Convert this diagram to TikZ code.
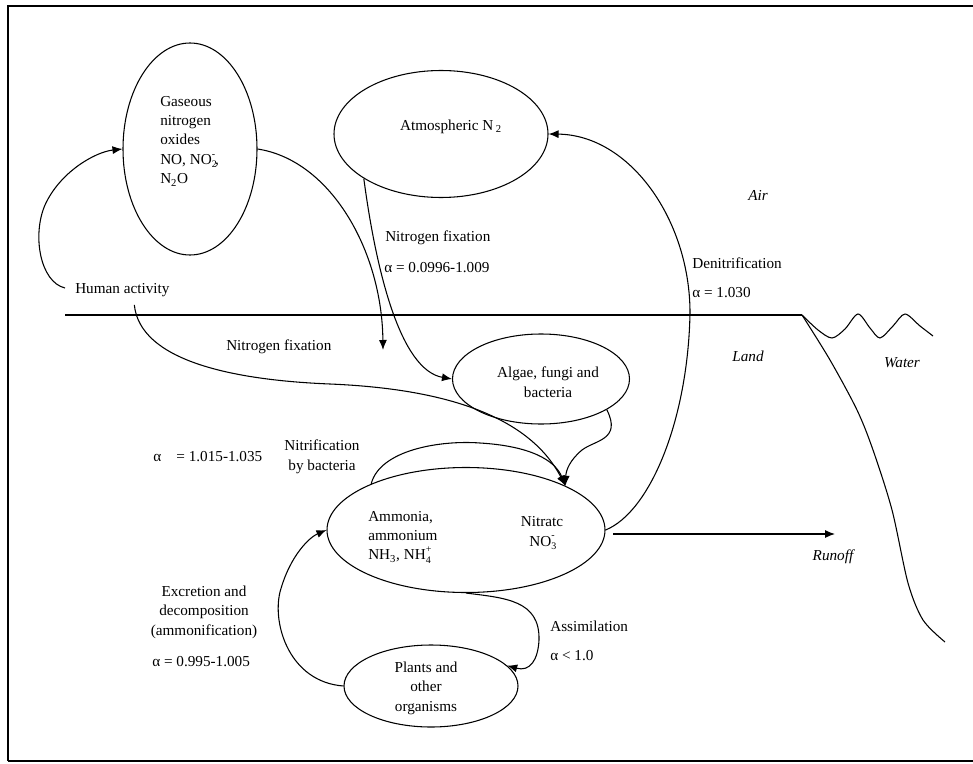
\documentclass[tikz,border=0pt]{standalone}
\usepackage{fontspec}
\setmainfont{Liberation Serif}
\usetikzlibrary{arrows.meta,shapes.geometric,calc}
\newcommand\sbsp[2]{\rlap{\raisebox{-0.45ex}{\fontsize{7.5}{8}\selectfont #1}}\raisebox{1.05ex}{\fontsize{7.5}{8}\selectfont #2}}
\begin{document}
\begin{tikzpicture}[x=0.75pt,y=-0.75pt,
  every node/.style={font=\fontsize{11.4}{14.6}\selectfont, inner sep=0pt},
  blob/.style={draw, ellipse, line width=0.8pt, inner sep=0pt},
  conn/.style={line width=0.8pt},
  arr/.style={conn, -{Latex[length=7.5pt,width=6pt]}},
  lbl/.style={anchor=west, align=left},
  ctr/.style={align=center},
  ital/.style={font=\fontsize{11.4}{14.6}\selectfont\itshape}]
\useasboundingbox (0,0) rectangle (973,763);

% frame
\draw[line width=2.2pt] (973,6) -- (8,6) -- (8,761);
\draw[line width=1pt] (8,761) -- (973,761);

% ellipses
\node[blob, minimum width=100.5pt, minimum height=159pt] (gas) at (190,149) {};
\node[blob, minimum width=160.5pt, minimum height=95.25pt] (atm) at (441,134) {};
\node[blob, minimum width=132.75pt, minimum height=67.5pt] (alg) at (541,379) {};
\node[blob, minimum width=208.5pt, minimum height=93.75pt] (amm) at (466,530) {};
\node[blob, minimum width=130.5pt, minimum height=61.5pt] (pla) at (431,686) {};

% texts in ellipses
\node[lbl] (gast) at (160,141) {Gaseous\\nitrogen\\oxides\\NO, NO\sbsp{2}{-},\\N\textsubscript{2}O};
\node (atmt) at (451,127) {Atmospheric N\,\textsubscript{2}};
\node[ctr] (algt) at (548,382) {Algae, fungi and\\bacteria};
\node[lbl] (ammt) at (368,537) {Ammonia,\\ammonium\\NH\textsubscript{3}, NH\sbsp{4}{+}};
\node[ctr] (nitt) at (542,533) {Nitratc\\NO\sbsp{3}{-}};
\node[ctr] (plat) at (426,688) {Plants and\\other\\organisms};

% labels
\node[lbl] (hum) at (75,290) {Human activity};
\node[lbl] (nf1) at (385,238) {Nitrogen fixation};
\node[lbl] (nf1a) at (384,268) {α = 0.0996-1.009};
\node[lbl] (nf2) at (226,347) {Nitrogen fixation};
\node[lbl] (den) at (692,263) {Denitrification};
\node[lbl] (dena) at (692,293) {α = 1.030};
\node[ital] (air) at (758,195) {Air};
\node[ital] (land) at (748,356) {Land};
\node[ital] (water) at (902,363) {Water};
\node[ital] (runoff) at (833,557) {Runoff};
\node[lbl] (nitra) at (153,457) {α\quad= 1.015-1.035};
\node[ctr] (nitr) at (322,457) {Nitrification\\by bacteria};
\node[ctr] (exc) at (204,612) {Excretion and\\decomposition\\(ammonification)};
\node[lbl] (exca) at (152,662) {α = 0.995-1.005};
\node[lbl] (ass) at (550,626) {Assimilation};
\node[lbl] (assa) at (550,656) {α < 1.0};

% ground line, water, shore
\coordinate (shore) at (802,315);
\draw[conn] (65,315) -- (shore);
\draw[conn] plot[smooth] coordinates {(shore) (818,330) (832,338) (845,329) (858,314) (870,328) (880,338) (893,326) (905,314) (920,326) (933,336)};
\draw[conn] plot[smooth] coordinates {(shore) (830,360) (857,410) (873,450) (892,510) (908,583) (923,620) (945,642)};

% connectors
\coordinate (nfe) at (383,350);
\coordinate (roS) at (613,534);
\coordinate (roE) at (835,534);

\draw[arr] ([shift={(-10,-2)}]hum.west) .. controls (40,282) and (32,235) .. (45,205)
  .. controls (60,172) and (95,152) .. (gas.west);
\draw[arr] (gas.east) .. controls (330,160) and (382,250) .. (nfe);
\draw[arr] (atm.210) .. controls (376,270) and (400,370) .. (alg.west);
\draw[arr] ([shift={(12,8)}]hum.south) .. controls (140,360) and (230,380) .. (330,384)
  .. controls (425,388) and (525,408) .. (amm.24);
\draw[arr] (alg.-25) .. controls (622,440) and (595,440) .. (582,450)
  .. controls (570,460) and (566,470) .. (amm.24);
\draw[arr] (amm.154) .. controls (380,450) and (440,440) .. (480,443)
  .. controls (530,446) and (555,460) .. (amm.24);
\draw[arr] (amm.east) .. controls (650,512) and (688,420) .. (690,313)
  .. controls (690,220) and (630,135) .. (atm.east);
\draw[arr] (amm.south) .. controls (505,598) and (540,600) .. (539,640)
  .. controls (538,660) and (530,672) .. (pla.15);
\draw[arr] (pla.west) .. controls (290,682) and (272,625) .. (280,592)
  .. controls (290,555) and (310,537) .. (amm.west);
\draw[arr] (roS) -- (roE);
\end{tikzpicture}
\end{document}
